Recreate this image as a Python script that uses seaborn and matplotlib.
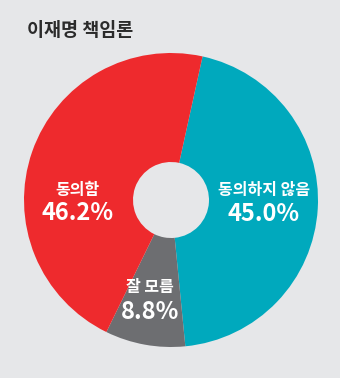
import matplotlib
matplotlib.use("Agg")
import matplotlib.pyplot as plt
import seaborn as sns

title = "이재명 책임론"
categories = ["동의하지 않음", "잘 모름", "동의함"]
values = [45.0, 8.8, 46.2]
colors = ["#00a9bd", "#6d6e71", "#ee2a2d"]
# label anchor positions (pixel centres: x, name line y, pct line y)
label_px = [(264, 190, 214), (150, 287, 312), (78, 190, 213.5)]

sns.set_style("white")
plt.rcParams["font.family"] = ["Noto Sans CJK KR", "DejaVu Sans"]

W, H = 340, 378
bg = "#e6e7e9"
fig = plt.figure(figsize=(W / 100, H / 100), dpi=100, facecolor=bg)
cx, cy, r = 171, 200, 147
ax = fig.add_axes([(cx - r) / W, (H - cy - r) / H, 2 * r / W, 2 * r / H])
ax.set_facecolor(bg)
ax.pie(values, colors=colors, startangle=77.6, counterclock=False,
       radius=1, wedgeprops=dict(width=1 - 38 / 147, linewidth=0))
ax.set_xlim(-1, 1)
ax.set_ylim(-1, 1)
ax.set_aspect("equal")
ax.axis("off")

for cat, v, (px, py1, py2) in zip(categories, values, label_px):
    ax.text((px - cx) / r, (cy - py1) / r, cat, ha="center", va="center",
            color="white", fontsize=11.5, fontweight="bold")
    ax.text((px - cx) / r, (cy - py2) / r, f"{v:.1f}%", ha="center", va="center",
            color="white", fontsize=17, fontweight="bold")

fig.text(27 / W, 1 - 30 / H, title, ha="left", va="center", fontsize=13.3,
         fontweight="bold", color="#2b2b2b")

fig.savefig("out.png", dpi=100, facecolor=bg)
